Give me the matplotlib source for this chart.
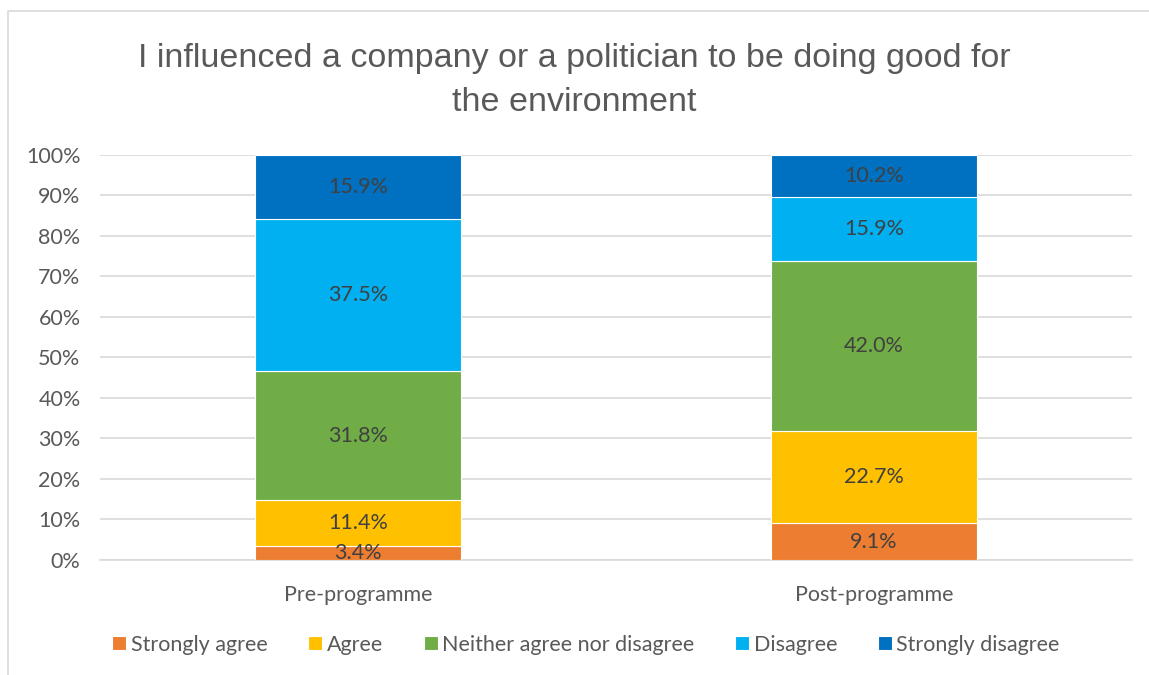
import matplotlib.pyplot as plt
import numpy as np
from matplotlib.patches import Rectangle

categories = ['Pre-programme', 'Post-programme']
series = ['Strongly agree', 'Agree', 'Neither agree nor disagree', 'Disagree', 'Strongly disagree']
values = {
    'Strongly agree': [3.4, 9.1],
    'Agree': [11.4, 22.7],
    'Neither agree nor disagree': [31.8, 42.0],
    'Disagree': [37.5, 15.9],
    'Strongly disagree': [15.9, 10.2],
}
colors = ['#ED7D31', '#FFC000', '#70AD47', '#00B0F0', '#0070C0']

plt.rcParams['font.family'] = ['Lato', 'DejaVu Sans']
txt = '#595959'
fs = 15.5

fig = plt.figure(figsize=(11.49, 6.75), dpi=100)
ax = fig.add_axes([0.087, 0.1704, 0.898, 0.60])

x = np.arange(len(categories))
bottom = np.zeros(len(categories))
for name, col in zip(series, colors):
    v = np.array(values[name])
    ax.bar(x, v, 0.4, bottom=bottom, color=col, label=name,
           edgecolor='white', linewidth=0.8, zorder=3)
    for xi, b, vi in zip(x, bottom, v):
        ax.text(xi, b + vi / 2, '%.1f%%' % vi, ha='center', va='center',
                fontsize=fs, color='#404040', zorder=4)
    bottom += v

ax.set_xlim(-0.5, 1.5)
ax.set_ylim(0, 100)
ax.set_yticks(np.arange(0, 101, 10))
ax.set_yticklabels(['%d%%' % t for t in range(0, 101, 10)])
ax.set_xticks(x)
ax.set_xticklabels(categories)
ax.tick_params(axis='both', length=0, labelsize=fs, labelcolor=txt)
ax.tick_params(axis='x', pad=18)
ax.tick_params(axis='y', pad=14)
ax.yaxis.grid(True, color='#D9D9D9', linewidth=1.2, zorder=0)
for s in ['top', 'right', 'left']:
    ax.spines[s].set_visible(False)
ax.spines['bottom'].set_color('#D9D9D9')
ax.spines['bottom'].set_linewidth(1.2)

fig.suptitle('I influenced a company or a politician to be doing good for\nthe environment',
             y=0.937, fontsize=24.5, color=txt, fontfamily=['Liberation Sans', 'DejaVu Sans'],
             linespacing=1.55)

fig.legend(loc='center', bbox_to_anchor=(0.51, 0.045), ncol=5, frameon=False,
           fontsize=fs, labelcolor=txt, handlelength=0.65, handleheight=0.65,
           handletextpad=0.2, columnspacing=1.9)

fig.patches.append(Rectangle((8 / 1149, -0.1), 1.2, 1.1 - 11 / 675, transform=fig.transFigure,
                             fill=False, edgecolor='#D9D9D9', linewidth=1.2))

fig.savefig('out.png', dpi=100)
